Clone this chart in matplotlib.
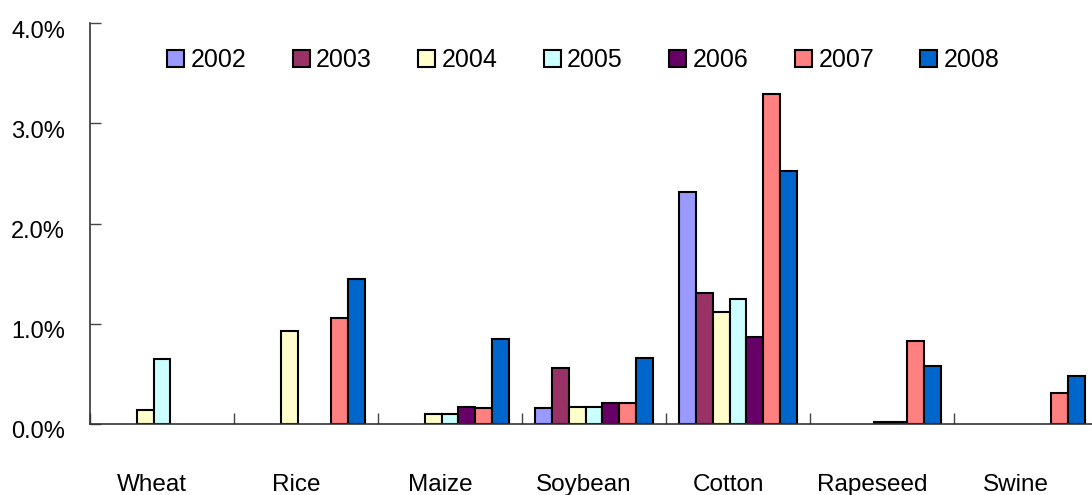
import matplotlib.pyplot as plt
import matplotlib.transforms as mtransforms
import numpy as np

plt.rcParams['font.family'] = ['Liberation Sans', 'DejaVu Sans']

# data (percent); 0 = no bar shown
crops = ['Wheat', 'Rice', 'Maize', 'Soybean', 'Cotton', 'Rapeseed', 'Swine']
years = ['2002', '2003', '2004', '2005', '2006', '2007', '2008']
v2002 = [0.00, 0.00, 0.00, 0.16, 2.31, 0.00, 0.00]
v2003 = [0.00, 0.00, 0.00, 0.56, 1.31, 0.00, 0.00]
v2004 = [0.14, 0.93, 0.10, 0.17, 1.12, 0.00, 0.00]
v2005 = [0.65, 0.00, 0.10, 0.17, 1.25, 0.02, 0.00]
v2006 = [0.00, 0.00, 0.17, 0.21, 0.87, 0.02, 0.00]
v2007 = [0.00, 1.06, 0.16, 0.21, 3.29, 0.83, 0.31]
v2008 = [0.00, 1.45, 0.85, 0.66, 2.52, 0.58, 0.48]
series = [v2002, v2003, v2004, v2005, v2006, v2007, v2008]
colors = ['#9999FF', '#993366', '#FFFFCC', '#CCFFFF', '#660066', '#FF8080', '#0066CC']

fig = plt.figure(figsize=(10.92, 4.95), dpi=100)
ax = fig.add_axes([90/1092, 1-424/495, 1008/1092, 401/495])

x = np.arange(len(crops))
w = 0.118
for i, (vals, c, yr) in enumerate(zip(series, colors, years)):
    h = np.array(vals, dtype=float)
    h[h == 0] = np.nan   # zero values are not drawn
    ax.bar(x + (i - 3) * w, h, w, color=c, edgecolor='black', linewidth=1.5, label=yr)

ax.set_xlim(-0.5, len(crops) - 0.5)
ax.set_ylim(0, 4.0)
ax.set_yticks([0, 1, 2, 3, 4])
ax.set_yticklabels(['0.0%', '1.0%', '2.0%', '3.0%', '4.0%'], fontsize=17)
ax.tick_params(axis='y', direction='in', length=8, width=1, pad=18, color='#444444')

ax.set_xticks(x)
ax.set_xticklabels(crops, fontsize=17.5)
ax.set_xticks(np.arange(len(crops)) - 0.5, minor=True)
ax.tick_params(axis='x', which='major', length=0, pad=36)
ax.tick_params(axis='x', which='minor', direction='in', length=8, width=1, color='#444444')

off_x = mtransforms.ScaledTranslation(-10/100, 0, fig.dpi_scale_trans)
for lab in ax.get_xticklabels():
    lab.set_transform(lab.get_transform() + off_x)
off_y = mtransforms.ScaledTranslation(0, -6/100, fig.dpi_scale_trans)
for lab in ax.get_yticklabels():
    lab.set_transform(lab.get_transform() + off_y)

for s in ['top', 'right']:
    ax.spines[s].set_visible(False)
ax.spines['left'].set_color('#333333')
ax.spines['bottom'].set_color('#333333')
ax.spines['left'].set_linewidth(1.2)
ax.spines['bottom'].set_linewidth(1.2)

ax.legend(ncol=7, frameon=False, loc='center left',
          bbox_to_anchor=(167/1092, 1-60/495), bbox_transform=fig.transFigure,
          borderaxespad=0, borderpad=0,
          handlelength=0.68, handleheight=0.68, handletextpad=0.26, columnspacing=1.85,
          fontsize=18)

fig.savefig('out.png', dpi=100)
